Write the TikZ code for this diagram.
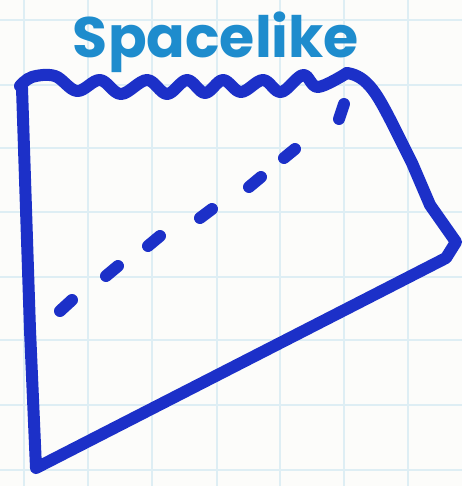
\documentclass[tikz,border=0pt]{standalone}
\usepackage{fontspec}
\newfontfamily\labfont{Poppins}
\definecolor{ink}{RGB}{28,48,200}
\definecolor{lab}{RGB}{30,140,205}
\definecolor{gridc}{RGB}{222,238,244}
\definecolor{paper}{RGB}{252,252,250}
\begin{document}
\begin{tikzpicture}[x=1pt,y=-1pt,
  inkline/.style={draw=ink,line width=12pt,line cap=round,line join=round},
  dashblob/.style={draw=ink,line width=12pt,line cap=round},
  gridline/.style={draw=gridc,line width=2pt}]
\fill[paper] (0,0) rectangle (462,486);
\useasboundingbox (0,0) rectangle (462,486);
\foreach \x in {24,88,152,217,280,344,408} \draw[gridline] (\x,0) -- (\x,486);
\foreach \y in {20,85,148,212,277,340,405,470} \draw[gridline] (0,\y) -- (462,\y);
% title
\node[text=lab, font=\labfont\bfseries\fontsize{57}{57}\selectfont, anchor=base, inner sep=0pt] (title) at (216,58) {Spacelike};
% wavy top edge
\draw[inkline] plot[smooth, tension=0.6] coordinates {(20,86) (32,77) (55,76) (77,91) (100,80) (121,94) (147,80) (167,94) (187,80) (205,93) (223,80) (241,92) (263,80) (281,92) (303,75) (318,87) (347,73)};
% rest of outline
\coordinate (tr) at (347,73);
\coordinate (rc) at (456,242);
\coordinate (bl) at (36,468);
\coordinate (tl) at (22,88);
\draw[inkline] (tr) .. controls (368,76) and (378,96) .. (392,123) -- (412,163) -- (430,205) -- (rc) -- (446,258) -- (bl) -- (30,330) -- (tl);
% dashed line
\foreach \a/\b/\c/\d in {60/311/72/300, 106/276/118/266, 148/246/160/236, 200/218/212/209, 249/187/261/177, 284/158/295/149, 344/104/339/119}
  \draw[dashblob] (\a,\b) -- (\c,\d);
\end{tikzpicture}
\end{document}
